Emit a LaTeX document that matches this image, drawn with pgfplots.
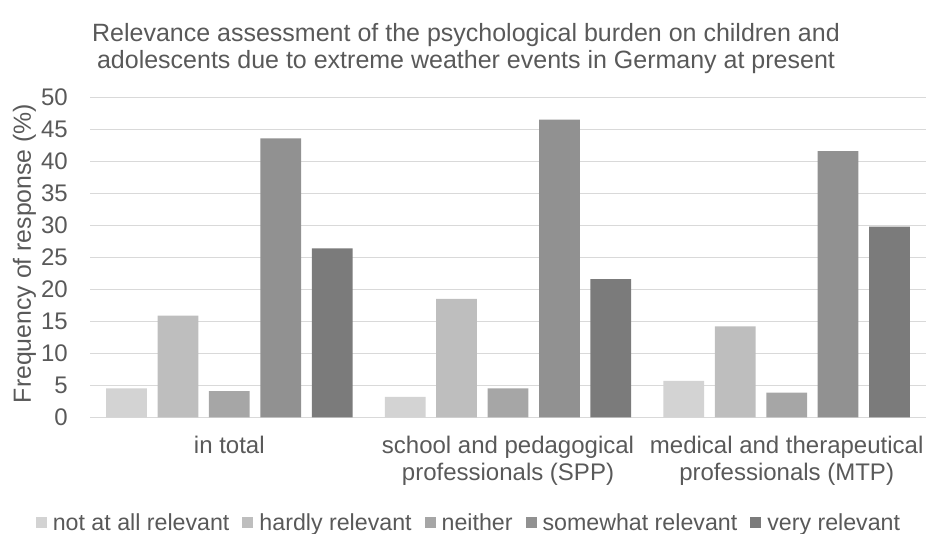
\documentclass[border=0pt]{standalone}
\usepackage{pgfplots}
\pgfplotsset{compat=1.18}
\usepackage{fontspec}
\setmainfont{Liberation Sans}

\definecolor{txt}{HTML}{595959}
\definecolor{gridc}{HTML}{D9D9D9}
\definecolor{c1}{HTML}{D3D3D3}
\definecolor{c2}{HTML}{BEBEBE}
\definecolor{c3}{HTML}{A6A6A6}
\definecolor{c4}{HTML}{919191}
\definecolor{c5}{HTML}{7B7B7B}

\newcommand{\titlefont}{\fontsize{25}{27}\selectfont}
\newcommand{\chartfont}{\fontsize{24}{27}\selectfont}
\newcommand{\legendfont}{\fontsize{23.2}{27}\selectfont}
\newcommand{\labelfont}{\fontsize{24.8}{28}\selectfont}

\begin{document}
\begin{tikzpicture}[x=1pt,y=1pt]
\useasboundingbox (0,0) rectangle (928,534);
\node[font=\titlefont, text=txt, align=center] at (466,485)
  {Relevance assessment of the psychological burden on children and\\
   adolescents due to extreme weather events in Germany at present};
\begin{axis}[
  at={(90pt,116.7pt)}, anchor=south west,
  scale only axis, width=836pt, height=320pt,
  ymin=0, ymax=50, ytick={0,5,...,50},
  xmin=-0.5, xmax=2.5, xtick={0,1,2},
  xticklabels={in total,
    {school and pedagogical\\professionals (SPP)},
    {medical and therapeutical\\professionals (MTP)}},
  axis line style={draw=none},
  tick style={draw=none},
  ymajorgrids,
  major grid style={gridc, line width=1.4pt},
  ybar, bar width=0.1464,
  ticklabel style={font=\chartfont, text=txt},
  xticklabel style={align=center, anchor=north, inner sep=0pt, yshift=-14pt},
  yticklabel style={anchor=east, inner sep=0pt, xshift=-22pt},
  /pgf/number format/assume math mode=true,
  ylabel={Frequency of response (\%)},
  ylabel style={font=\labelfont, text=txt, at={(axis description cs:-0.0785,0.512)}, anchor=center},
  legend columns=5,
  legend style={at={(axis description cs:0.4545,-0.329)}, anchor=center, draw=none,
    font=\legendfont, text=txt, inner sep=0pt,
    nodes={inner xsep=4pt, inner ysep=3pt},
    /tikz/every even column/.append style={column sep=9pt}},
  legend image code/.code={\fill[#1] (0pt,-5.5pt) rectangle (11pt,5.5pt); \path (13pt,0pt);},
]
\addplot[fill=c1, draw=none, bar shift=-0.369] coordinates {(0,4.5) (1,3.2) (2,5.7)};
\addplot[fill=c2, draw=none, bar shift=-0.1845] coordinates {(0,15.9) (1,18.5) (2,14.2)};
\addplot[fill=c3, draw=none, bar shift=0] coordinates {(0,4.1) (1,4.5) (2,3.85)};
\addplot[fill=c4, draw=none, bar shift=0.1845] coordinates {(0,43.6) (1,46.5) (2,41.6)};
\addplot[fill=c5, draw=none, bar shift=0.369] coordinates {(0,26.4) (1,21.6) (2,29.8)};
\legend{not at all relevant, hardly relevant, neither, somewhat relevant, very relevant}
\end{axis}
\end{tikzpicture}
\end{document}
